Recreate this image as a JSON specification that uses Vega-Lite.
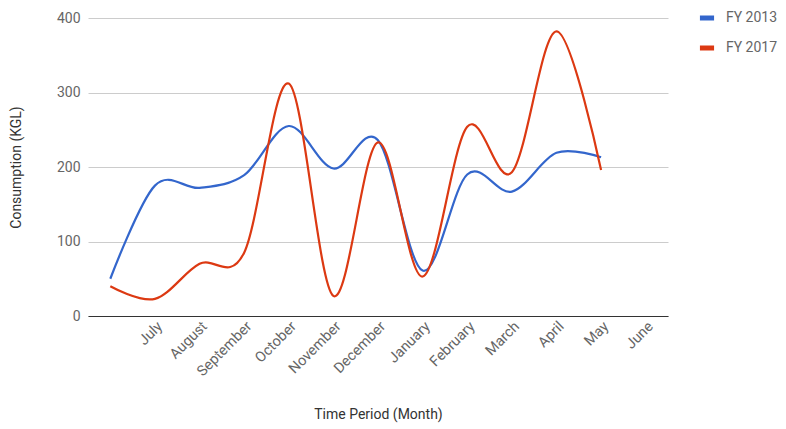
{
  "$schema": "https://vega.github.io/schema/vega-lite/v6.json",
  "width": 580,
  "height": 298,
  "autosize": "none",
  "padding": {"left": 88, "top": 18, "right": 118, "bottom": 113},
  "background": "white",
  "config": {
    "font": "Roboto",
    "view": {"stroke": null}
  },
  "data": {
    "values": [
      {"month": "", "series": "FY 2013", "value": 50},
      {"month": "July", "series": "FY 2013", "value": 175},
      {"month": "August", "series": "FY 2013", "value": 172},
      {"month": "September", "series": "FY 2013", "value": 189},
      {"month": "October", "series": "FY 2013", "value": 255},
      {"month": "November", "series": "FY 2013", "value": 198},
      {"month": "December", "series": "FY 2013", "value": 236},
      {"month": "January", "series": "FY 2013", "value": 61},
      {"month": "February", "series": "FY 2013", "value": 190},
      {"month": "March", "series": "FY 2013", "value": 167},
      {"month": "April", "series": "FY 2013", "value": 219},
      {"month": "May", "series": "FY 2013", "value": 213},
      {"month": "", "series": "FY 2017", "value": 40},
      {"month": "July", "series": "FY 2017", "value": 23},
      {"month": "August", "series": "FY 2017", "value": 70},
      {"month": "September", "series": "FY 2017", "value": 85},
      {"month": "October", "series": "FY 2017", "value": 312},
      {"month": "November", "series": "FY 2017", "value": 27},
      {"month": "December", "series": "FY 2017", "value": 233},
      {"month": "January", "series": "FY 2017", "value": 53},
      {"month": "February", "series": "FY 2017", "value": 254},
      {"month": "March", "series": "FY 2017", "value": 193},
      {"month": "April", "series": "FY 2017", "value": 382},
      {"month": "May", "series": "FY 2017", "value": 196}
    ]
  },
  "mark": {"type": "line", "interpolate": "cardinal", "strokeWidth": 2.2},
  "encoding": {
    "x": {
      "field": "month",
      "type": "ordinal",
      "sort": null,
      "scale": {
        "type": "point",
        "padding": 0.5,
        "domain": ["", "July", "August", "September", "October", "November", "December", "January", "February", "March", "April", "May", "June"]
      },
      "axis": {
        "title": "Time Period (Month)",
        "titleFont": "Roboto",
        "titleFontSize": 14,
        "titleFontWeight": "normal",
        "titleColor": "#333333",
        "titleY": 91,
        "labelAngle": -45,
        "labelAlign": "right",
        "labelBaseline": "top",
        "labelFontSize": 14.5,
        "labelColor": "#666666",
        "labelPadding": 3,
        "labelOverlap": false,
        "ticks": false,
        "domain": true,
        "domainColor": "#333333",
        "domainWidth": 1.2,
        "grid": false
      }
    },
    "y": {
      "field": "value",
      "type": "quantitative",
      "scale": {"domain": [0, 400], "nice": false},
      "axis": {
        "title": "Consumption (KGL)",
        "titleFont": "Roboto",
        "titleFontSize": 14,
        "titleFontWeight": "normal",
        "titleColor": "#333333",
        "titleX": -65,
        "values": [0, 100, 200, 300, 400],
        "labelFontSize": 14,
        "labelColor": "#666666",
        "labelPadding": 8,
        "ticks": false,
        "domain": false,
        "grid": true,
        "gridColor": "#cccccc",
        "gridWidth": 1
      }
    },
    "color": {
      "field": "series",
      "type": "nominal",
      "scale": {"domain": ["FY 2013", "FY 2017"], "range": ["#3366cc", "#dc3912"]},
      "legend": {
        "title": null,
        "orient": "none",
        "legendX": 609,
        "legendY": -10,
        "symbolType": "stroke",
        "symbolStrokeWidth": 5,
        "symbolSize": 200,
        "labelFontSize": 14,
        "labelColor": "#666666",
        "rowPadding": 10,
        "labelOffset": 9
      }
    }
  }
}
